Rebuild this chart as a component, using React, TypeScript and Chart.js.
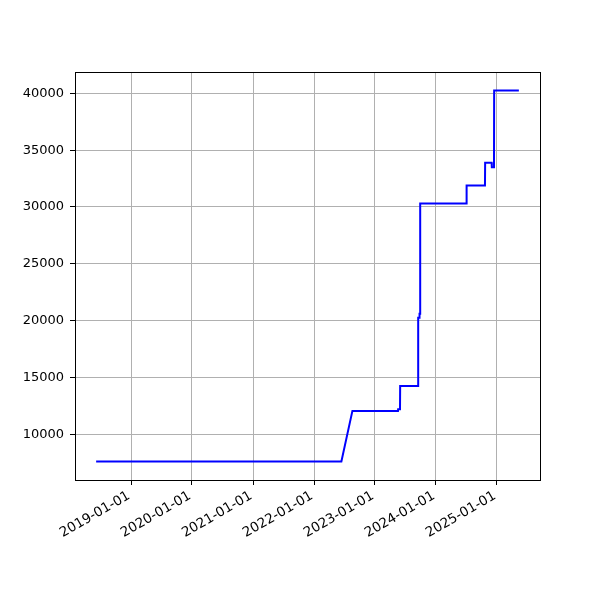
import { useEffect, useRef } from 'react';
import { Chart, registerables } from 'chart.js';

Chart.register(...registerables);

const dates = [
  '2018-06-06', '2022-06-14', '2022-08-19', '2023-05-19', '2023-05-20',
  '2023-05-31', '2023-06-01', '2023-09-16', '2023-09-17', '2023-09-24',
  '2023-09-25', '2023-09-28', '2023-09-29', '2024-07-02', '2024-07-03',
  '2024-10-21', '2024-10-22', '2024-11-30', '2024-12-01', '2024-12-14',
  '2024-12-15', '2025-05-12',
];
const values = [
  7600, 7600, 12050, 12050, 12200,
  12200, 14250, 14250, 20250, 20250,
  20600, 20600, 30300, 30300, 31900,
  31900, 33900, 33900, 33500, 33500,
  40250, 40250,
];
const xTickLabels = [
  '2019-01-01', '2020-01-01', '2021-01-01', '2022-01-01',
  '2023-01-01', '2024-01-01', '2025-01-01',
];
const yTickValues = [10000, 15000, 20000, 25000, 30000, 35000, 40000];

const toMs = (d: string) =>
  Date.UTC(+d.slice(0, 4), +d.slice(5, 7) - 1, +d.slice(8, 10));
const fmt = (ms: number) => new Date(ms).toISOString().slice(0, 10);

const FONT = { family: '"DejaVu Sans", sans-serif', size: 13 };
const XFONT = { family: '"DejaVu Sans", sans-serif', size: 13.5 };

export default function App() {
  const ref = useRef<HTMLCanvasElement>(null);
  useEffect(() => {
    if (!ref.current) return;
    const xs = dates.map(toMs);
    const xMin0 = Math.min(...xs);
    const xMax0 = Math.max(...xs);
    const yMin0 = Math.min(...values);
    const yMax0 = Math.max(...values);
    const xm = (xMax0 - xMin0) * 0.05;
    const ym = (yMax0 - yMin0) * 0.05;

    const frame = {
      id: 'frame',
      afterDraw(c: any) {
        const a = c.chartArea;
        const ctx = c.ctx;
        ctx.save();
        ctx.strokeStyle = '#000';
        ctx.lineWidth = 1;
        ctx.strokeRect(
          Math.round(a.left) + 0.5,
          Math.round(a.top) + 0.5,
          Math.round(a.right - a.left),
          Math.round(a.bottom - a.top)
        );
        ctx.restore();
      },
    };

    const chart = new Chart(ref.current, {
      type: 'line',
      data: {
        datasets: [
          {
            data: xs.map((x, i) => ({ x, y: values[i] })),
            borderColor: '#0000ff',
            borderWidth: 2,
            pointRadius: 0,
            fill: false,
            tension: 0,
          },
        ],
      },
      options: {
        animation: false,
        responsive: false,
        devicePixelRatio: 1,
        layout: { padding: { top: 72, right: 60, left: 0, bottom: 0 } },
        plugins: { legend: { display: false }, tooltip: { enabled: false } },
        scales: {
          x: {
            type: 'linear',
            min: xMin0 - xm,
            max: xMax0 + xm,
            afterBuildTicks: (s: any) => {
              s.ticks = xTickLabels.map((d) => ({ value: toMs(d) }));
            },
            afterFit: (s: any) => {
              s.height = 120;
            },
            ticks: {
              callback: (v: any) => fmt(Number(v)),
              maxRotation: 30,
              minRotation: 30,
              autoSkip: false,
              color: '#000',
              font: XFONT,
              padding: 3,
              labelOffset: -2,
            },
            grid: {
              color: '#b0b0b0',
              tickColor: '#000',
              tickLength: 5,
              lineWidth: 1,
            },
            border: { display: false },
          },
          y: {
            type: 'linear',
            min: yMin0 - ym,
            max: yMax0 + ym,
            afterBuildTicks: (s: any) => {
              s.ticks = yTickValues.map((v) => ({ value: v }));
            },
            afterFit: (s: any) => {
              s.width = 75;
            },
            ticks: {
              callback: (v: any) => String(v),
              color: '#000',
              font: FONT,
              padding: 6,
            },
            grid: {
              color: '#b0b0b0',
              tickColor: '#000',
              tickLength: 5,
              lineWidth: 1,
            },
            border: { display: false },
          },
        },
      },
      plugins: [frame],
    });
    return () => chart.destroy();
  }, []);
  return (
    <canvas
      ref={ref}
      width={600}
      height={600}
      style={{ position: 'absolute', left: 0, top: 0 }}
    />
  );
}
